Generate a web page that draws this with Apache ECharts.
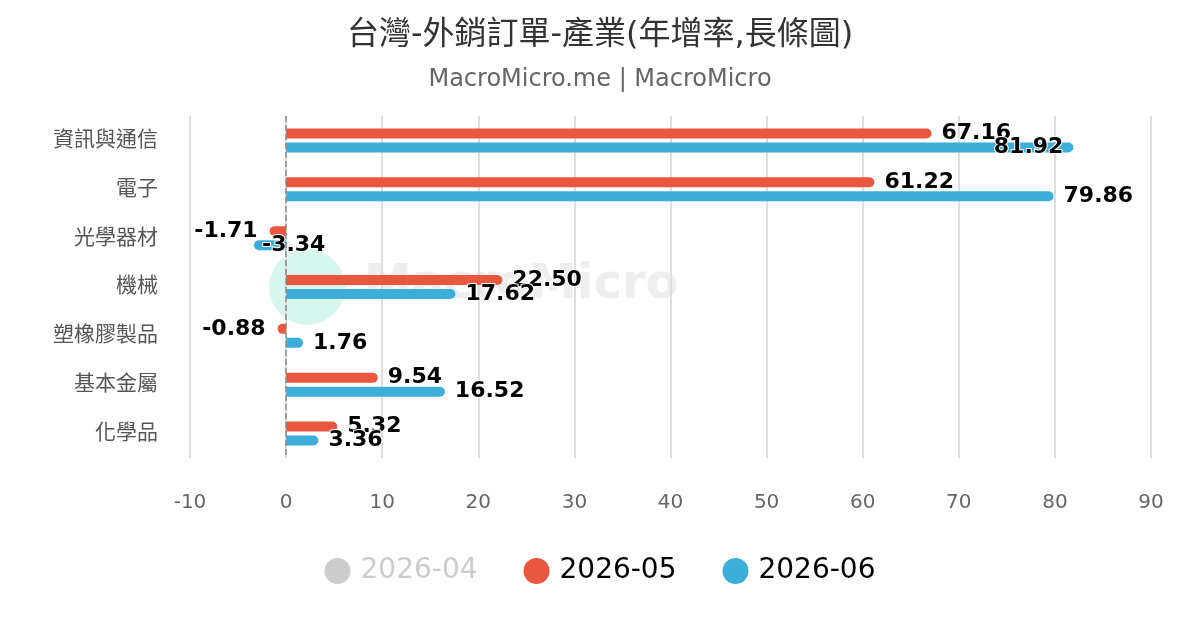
<!DOCTYPE html>
<html>
<head>
<meta charset="utf-8">
<script src="https://cdn.jsdelivr.net/npm/echarts@6/dist/echarts.min.js"></script>
<style>html,body{margin:0;padding:0;background:#fff;}#c{width:1200px;height:630px;}</style>
</head>
<body>
<div id="c"></div>
<script>
const categories = ['資訊與通信', '電子', '光學器材', '機械', '塑橡膠製品', '基本金屬', '化學品'];
const seriesNames = ['2026-04', '2026-05', '2026-06'];
const values2604 = []; // hidden series (legend deselected)
const values2605 = [67.16, 61.22, -1.71, 22.50, -0.88, 9.54, 5.32];
const values2606 = [81.92, 79.86, -3.34, 17.62, 1.76, 16.52, 3.36];
const xTicks = [-10, 0, 10, 20, 30, 40, 50, 60, 70, 80, 90];

const FONT = "'DejaVu Sans', 'Noto Sans CJK TC', sans-serif";
const xMin = xTicks[0], xMax = xTicks[xTicks.length - 1];
const gridLeft = 190, gridRight = 49;
const pxPerUnit = (1200 - gridLeft - gridRight) / (xMax - xMin);
const labelFont = 22;
function labelWidth(s) {
  let w = 0;
  for (const ch of s) w += ch === '.' ? 0.38 : ch === '-' ? 0.415 : 0.72;
  return w * labelFont;
}
function buildData(vals) {
  return vals.map(v => {
    const txt = v.toFixed(2);
    const need = (labelWidth(txt) + 10) / pxPerUnit;
    const item = { value: v, itemStyle: { borderRadius: v >= 0 ? [0, 5, 5, 0] : [5, 0, 0, 5] } };
    if (v >= 0) {
      item.label = v + need > xMax ? { position: 'insideRight', distance: 10 } : { position: 'right', distance: 10 };
    } else {
      item.label = v - need < xMin ? { position: 'insideLeft', distance: 8 } : { position: 'left', distance: 12 };
    }
    return item;
  });
}
const labelStyle = {
  show: true,
  formatter: p => Number(p.value).toFixed(2),
  fontFamily: FONT, fontSize: labelFont, fontWeight: 'bold', color: '#000',
  textBorderColor: '#fff', textBorderWidth: 2
};
const chart = echarts.init(document.getElementById('c'));
chart.setOption({
  animation: false,
  textStyle: { fontFamily: FONT },
  title: [
    { text: '台灣-外銷訂單-產業(年增率,長條圖)', left: 'center', top: 15,
      textStyle: { fontFamily: FONT, fontSize: 32, fontWeight: 'normal', color: '#333' } },
    { text: 'MacroMicro.me | MacroMicro', left: 'center', top: 63,
      textStyle: { fontFamily: FONT, fontSize: 24, fontWeight: 'normal', color: '#666' } }
  ],
  graphic: [
    { type: 'circle', shape: { cx: 307, cy: 287, r: 38 }, style: { fill: '#d6f6ee' }, z: 0, silent: true },
    { type: 'text', left: 364, top: 262, z: 0, silent: true,
      style: { text: 'MacroMicro', fontFamily: FONT, fontSize: 48, fontWeight: 'bold', fill: '#eeeeee' } }
  ],
  legend: {
    data: seriesNames, bottom: 40, left: 'center', icon: 'circle', itemWidth: 26, itemHeight: 26, itemGap: 46,
    selected: { '2026-04': false },
    inactiveColor: '#ccc',
    textStyle: { fontFamily: FONT, fontSize: 28, color: '#000', padding: [0, 0, 0, 5] }
  },
  grid: { left: gridLeft, right: gridRight, top: 116, bottom: 172, containLabel: false },
  xAxis: {
    type: 'value', min: xMin, max: xMax, interval: 10,
    axisLine: { show: false }, axisTick: { show: false },
    axisLabel: { margin: 35, fontFamily: FONT, fontSize: 20, color: '#666' },
    splitLine: { lineStyle: { color: '#dedede', width: 2 } }
  },
  yAxis: {
    type: 'category', data: categories, inverse: true,
    axisLine: { show: false, onZero: false }, axisTick: { show: false },
    axisLabel: { margin: 32, fontFamily: FONT, fontSize: 21, color: '#555' }
  },
  series: [
    { name: '2026-04', type: 'bar', data: values2604, barWidth: 10, barGap: '40%', itemStyle: { color: '#cccccc' }, z: 3 },
    { name: '2026-05', type: 'bar', data: buildData(values2605), barWidth: 10, barGap: '40%',
      itemStyle: { color: '#e9573f' }, label: labelStyle, z: 3,
      markLine: { silent: true, symbol: 'none', label: { show: false },
        lineStyle: { color: '#8a8a8a', type: 'dashed', width: 1.5 }, data: [{ xAxis: 0 }] } },
    { name: '2026-06', type: 'bar', data: buildData(values2606), barWidth: 10, barGap: '40%',
      itemStyle: { color: '#3daeda' }, label: labelStyle, z: 3 }
  ]
});
</script>
</body>
</html>
